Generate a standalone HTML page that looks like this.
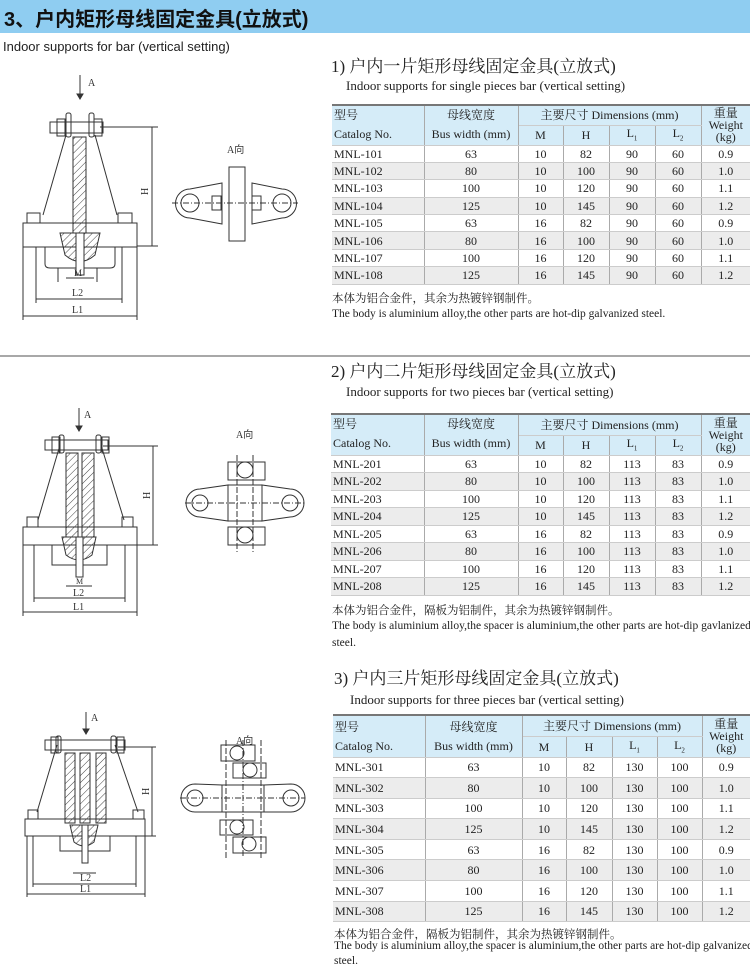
<!DOCTYPE html>
<html><head><meta charset="utf-8">
<style>
body{margin:0;width:750px;height:968px;position:relative;background:#fff;overflow:hidden;font-family:"Liberation Serif","Noto Serif CJK SC",serif;color:#222}
.abs{position:absolute;white-space:nowrap}
.hdr{left:0;top:0;width:750px;height:33px;background:#8fcdf1}
.hdr span{position:absolute;left:4px;top:3px;font:bold 20px "Liberation Sans","Noto Sans CJK SC",sans-serif;color:#111}
.t1{font-size:17px}
.t2{font-size:13px}
table{position:absolute;border-collapse:collapse;font-size:12px;table-layout:fixed}
td{border-left:1px solid #aaa;border-right:1px solid #aaa;border-bottom:1px solid #ccc;text-align:center;padding:0;line-height:1;overflow:hidden}
tr.h td{background:#d5ecf8}
tr:nth-child(2n+4) td{background:#ececec}
td.l{text-align:left;padding-left:2px;border-left:none}
td.r{border-right:none}
table{border-top:2px solid #777;border-bottom:1px solid #888}
.note{font-size:11.5px}
</style></head><body>
<div class="abs hdr"><span>3、户内矩形母线固定金具(立放式)</span></div>
<div class="abs" style="left:3px;top:39px;font:13px 'Liberation Sans',sans-serif">Indoor supports for bar (vertical setting)</div>
<div class="abs" style="left:0;top:355px;width:750px;height:2px;background:#a8a8a8"></div>

<div class="abs t1" style="left:331px;top:52px">1) 户内一片矩形母线固定金具(立放式)</div>
<div class="abs t2" style="left:346px;top:78px">Indoor supports for single pieces bar (vertical setting)</div>
<div class="abs t1" style="left:331px;top:357px">2) 户内二片矩形母线固定金具(立放式)</div>
<div class="abs t2" style="left:346px;top:384px">Indoor supports for two pieces bar (vertical setting)</div>
<div class="abs t1" style="left:334px;top:664px">3) 户内三片矩形母线固定金具(立放式)</div>
<div class="abs t2" style="left:350px;top:692px">Indoor supports for three pieces bar (vertical setting)</div>

<table style="left:332px;top:104px;width:418px">
<colgroup><col style="width:92px"><col style="width:94px"><col style="width:45px"><col style="width:46px"><col style="width:46px"><col style="width:46px"><col style="width:49px"></colgroup>
<tr class="h" style="height:20px"><td class="l" rowspan="2" style="line-height:19px;vertical-align:top">型号<br>Catalog No.</td><td rowspan="2" style="line-height:19px;vertical-align:top">母线宽度<br>Bus width (mm)</td><td colspan="4">主要尺寸 Dimensions (mm)</td><td class="r" rowspan="2" style="line-height:12px">重量<br>Weight<br>(kg)</td></tr>
<tr class="h" style="height:20px"><td>M</td><td>H</td><td>L<sub style="font-size:7px">1</sub></td><td>L<sub style="font-size:7px">2</sub></td></tr>
<tr style="height:17.4px"><td class="l">MNL-101</td><td>63</td><td>10</td><td>82</td><td>90</td><td>60</td><td class="r">0.9</td></tr>
<tr style="height:17.4px"><td class="l">MNL-102</td><td>80</td><td>10</td><td>100</td><td>90</td><td>60</td><td class="r">1.0</td></tr>
<tr style="height:17.4px"><td class="l">MNL-103</td><td>100</td><td>10</td><td>120</td><td>90</td><td>60</td><td class="r">1.1</td></tr>
<tr style="height:17.4px"><td class="l">MNL-104</td><td>125</td><td>10</td><td>145</td><td>90</td><td>60</td><td class="r">1.2</td></tr>
<tr style="height:17.4px"><td class="l">MNL-105</td><td>63</td><td>16</td><td>82</td><td>90</td><td>60</td><td class="r">0.9</td></tr>
<tr style="height:17.4px"><td class="l">MNL-106</td><td>80</td><td>16</td><td>100</td><td>90</td><td>60</td><td class="r">1.0</td></tr>
<tr style="height:17.4px"><td class="l">MNL-107</td><td>100</td><td>16</td><td>120</td><td>90</td><td>60</td><td class="r">1.1</td></tr>
<tr style="height:17.4px"><td class="l">MNL-108</td><td>125</td><td>16</td><td>145</td><td>90</td><td>60</td><td class="r">1.2</td></tr>
</table>
<div class="abs note" style="left:332px;top:290px">本体为铝合金件，其余为热镀锌钢制件。</div>
<div class="abs note" style="left:332px;top:308px">The body is aluminium alloy,the other parts are hot-dip galvanized steel.</div>

<table style="left:331px;top:413px;width:419px">
<colgroup><col style="width:93px"><col style="width:94px"><col style="width:45px"><col style="width:46px"><col style="width:46px"><col style="width:46px"><col style="width:49px"></colgroup>
<tr class="h" style="height:21px"><td class="l" rowspan="2" style="line-height:19px;vertical-align:top">型号<br>Catalog No.</td><td rowspan="2" style="line-height:19px;vertical-align:top">母线宽度<br>Bus width (mm)</td><td colspan="4">主要尺寸 Dimensions (mm)</td><td class="r" rowspan="2" style="line-height:12px">重量<br>Weight<br>(kg)</td></tr>
<tr class="h" style="height:20px"><td>M</td><td>H</td><td>L<sub style="font-size:7px">1</sub></td><td>L<sub style="font-size:7px">2</sub></td></tr>
<tr style="height:17.5px"><td class="l">MNL-201</td><td>63</td><td>10</td><td>82</td><td>113</td><td>83</td><td class="r">0.9</td></tr>
<tr style="height:17.5px"><td class="l">MNL-202</td><td>80</td><td>10</td><td>100</td><td>113</td><td>83</td><td class="r">1.0</td></tr>
<tr style="height:17.5px"><td class="l">MNL-203</td><td>100</td><td>10</td><td>120</td><td>113</td><td>83</td><td class="r">1.1</td></tr>
<tr style="height:17.5px"><td class="l">MNL-204</td><td>125</td><td>10</td><td>145</td><td>113</td><td>83</td><td class="r">1.2</td></tr>
<tr style="height:17.5px"><td class="l">MNL-205</td><td>63</td><td>16</td><td>82</td><td>113</td><td>83</td><td class="r">0.9</td></tr>
<tr style="height:17.5px"><td class="l">MNL-206</td><td>80</td><td>16</td><td>100</td><td>113</td><td>83</td><td class="r">1.0</td></tr>
<tr style="height:17.5px"><td class="l">MNL-207</td><td>100</td><td>16</td><td>120</td><td>113</td><td>83</td><td class="r">1.1</td></tr>
<tr style="height:17.5px"><td class="l">MNL-208</td><td>125</td><td>16</td><td>145</td><td>113</td><td>83</td><td class="r">1.2</td></tr>
</table>
<div class="abs note" style="left:332px;top:602px">本体为铝合金件，隔板为铝制件，其余为热镀锌钢制件。</div>
<div class="abs note" style="left:332px;top:620px">The body is aluminium alloy,the spacer is aluminium,the other parts are hot-dip gavlanized</div>
<div class="abs note" style="left:332px;top:637px">steel.</div>

<table style="left:333px;top:714px;width:417px">
<colgroup><col style="width:92px"><col style="width:97px"><col style="width:44px"><col style="width:46px"><col style="width:45px"><col style="width:45px"><col style="width:48px"></colgroup>
<tr class="h" style="height:21px"><td class="l" rowspan="2" style="line-height:19px;vertical-align:top;padding-top:2px">型号<br>Catalog No.</td><td rowspan="2" style="line-height:19px;vertical-align:top;padding-top:2px">母线宽度<br>Bus width (mm)</td><td colspan="4">主要尺寸 Dimensions (mm)</td><td class="r" rowspan="2" style="line-height:12px">重量<br>Weight<br>(kg)</td></tr>
<tr class="h" style="height:21px"><td>M</td><td>H</td><td>L<sub style="font-size:7px">1</sub></td><td>L<sub style="font-size:7px">2</sub></td></tr>
<tr style="height:20.6px"><td class="l">MNL-301</td><td>63</td><td>10</td><td>82</td><td>130</td><td>100</td><td class="r">0.9</td></tr>
<tr style="height:20.6px"><td class="l">MNL-302</td><td>80</td><td>10</td><td>100</td><td>130</td><td>100</td><td class="r">1.0</td></tr>
<tr style="height:20.6px"><td class="l">MNL-303</td><td>100</td><td>10</td><td>120</td><td>130</td><td>100</td><td class="r">1.1</td></tr>
<tr style="height:20.6px"><td class="l">MNL-304</td><td>125</td><td>10</td><td>145</td><td>130</td><td>100</td><td class="r">1.2</td></tr>
<tr style="height:20.6px"><td class="l">MNL-305</td><td>63</td><td>16</td><td>82</td><td>130</td><td>100</td><td class="r">0.9</td></tr>
<tr style="height:20.6px"><td class="l">MNL-306</td><td>80</td><td>16</td><td>100</td><td>130</td><td>100</td><td class="r">1.0</td></tr>
<tr style="height:20.6px"><td class="l">MNL-307</td><td>100</td><td>16</td><td>120</td><td>130</td><td>100</td><td class="r">1.1</td></tr>
<tr style="height:20.6px"><td class="l">MNL-308</td><td>125</td><td>16</td><td>145</td><td>130</td><td>100</td><td class="r">1.2</td></tr>
</table>
<div class="abs note" style="left:334px;top:926px">本体为铝合金件，隔板为铝制件，其余为热镀锌钢制件。</div>
<div class="abs note" style="left:334px;top:940px">The body is aluminium alloy,the spacer is aluminium,the other parts are hot-dip galvanized</div>
<div class="abs note" style="left:334px;top:955px">steel.</div>

<svg class="abs" style="left:0;top:0" width="325" height="968" viewBox="0 0 325 968" fill="none" stroke="#333" stroke-width="1" font-family="Liberation Serif" font-size="10">
<defs><pattern id="hb" width="5" height="5" patternUnits="userSpaceOnUse" patternTransform="rotate(45)"><line x1="0" y1="0" x2="0" y2="5" stroke="#444" stroke-width="1"/></pattern></defs>
<g>
<line x1="80" y1="75" x2="80" y2="98"/><path d="M77 94 L80 99 L83 94Z" fill="#333"/>
<text x="88" y="86" fill="#333" stroke="none">A</text>
<rect x="50" y="122" width="53" height="11"/><rect x="57" y="119" width="8" height="17"/><rect x="94" y="119" width="8" height="17"/>
<rect x="66" y="113" width="5" height="24" rx="2"/><rect x="89" y="113" width="5" height="24" rx="2"/>
<rect x="73" y="137" width="13" height="96" fill="url(#hb)"/>
<line x1="66" y1="135" x2="43" y2="215"/><line x1="95" y1="135" x2="117" y2="215"/>
<rect x="27" y="213" width="13" height="10"/><rect x="118" y="213" width="14" height="10"/>
<rect x="23" y="223" width="114" height="24"/>
<path d="M45 247 L45 264 Q45 268 50 268 L110 268 Q115 268 115 264 L115 247"/>
<path d="M60 233 L100 233 L95 255 Q80 268 65 255Z" fill="url(#hb)"/>
<rect x="76" y="233" width="8" height="42" fill="#fff"/>
<path d="M58 268 L58 282 M97 268 L97 282"/>
<line x1="100" y1="127" x2="158" y2="127"/><line x1="137" y1="246" x2="158" y2="246"/>
<line x1="152" y1="127" x2="152" y2="246"/>
<text x="0" y="0" transform="translate(148,195) rotate(-90)" fill="#333" stroke="none">H</text>
<line x1="23" y1="247" x2="23" y2="320"/><line x1="137" y1="247" x2="137" y2="320"/>
<line x1="36" y1="247" x2="36" y2="303"/><line x1="122" y1="247" x2="122" y2="303"/>
<line x1="36" y1="299" x2="122" y2="299"/><line x1="23" y1="316" x2="137" y2="316"/>
<line x1="66" y1="278" x2="94" y2="278"/>
<text x="74" y="276" fill="#333" stroke="none" font-size="9">M</text>
<text x="72" y="296" fill="#333" stroke="none">L2</text>
<text x="72" y="313" fill="#333" stroke="none">L1</text>
<text x="227" y="153" fill="#333" stroke="none">A向</text>
<path d="M190 189 L222 183 L222 224 L190 218 A14 14 0 0 1 190 189Z"/>
<path d="M282 189 L252 183 L252 224 L282 218 A14 14 0 0 0 282 189Z"/>
<circle cx="190" cy="203" r="9"/><circle cx="282" cy="203" r="9"/>
<rect x="229" y="167" width="16" height="74"/>
<rect x="212" y="196" width="9" height="14"/><rect x="252" y="196" width="9" height="14"/>
<line x1="172" y1="203" x2="298" y2="203" stroke-dasharray="6 2 1 2"/>
</g>
<g>
<line x1="79" y1="408" x2="79" y2="430"/><path d="M76 426 L79 431 L82 426Z" fill="#333"/>
<text x="84" y="418" fill="#333" stroke="none">A</text>
<rect x="45" y="440" width="63" height="10"/><rect x="52" y="437" width="8" height="16"/><rect x="102" y="437" width="7" height="16"/>
<rect x="59" y="435" width="5" height="18" rx="2"/><rect x="96" y="435" width="5" height="18" rx="2"/>
<rect x="66" y="453" width="12" height="84" fill="url(#hb)"/><rect x="82" y="453" width="12" height="84" fill="url(#hb)"/>
<line x1="60" y1="445" x2="38" y2="520"/><line x1="101" y1="445" x2="124" y2="520"/>
<rect x="27" y="517" width="11" height="10"/><rect x="122" y="517" width="11" height="10"/>
<rect x="23" y="527" width="114" height="18"/>
<path d="M52 545 L52 565 L107 565 L107 545"/>
<path d="M62 537 L96 537 L92 555 Q79 565 66 555Z" fill="url(#hb)"/>
<rect x="76" y="537" width="7" height="40" fill="#fff"/>
<line x1="103" y1="446" x2="158" y2="446"/><line x1="137" y1="545" x2="158" y2="545"/>
<line x1="153" y1="446" x2="153" y2="545"/>
<text x="0" y="0" transform="translate(150,499) rotate(-90)" fill="#333" stroke="none">H</text>
<line x1="23" y1="545" x2="23" y2="616"/><line x1="137" y1="545" x2="137" y2="616"/>
<line x1="34" y1="545" x2="34" y2="602"/><line x1="125" y1="545" x2="125" y2="602"/>
<line x1="34" y1="598" x2="125" y2="598"/><line x1="23" y1="612" x2="137" y2="612"/>
<line x1="66" y1="586" x2="92" y2="586"/>
<text x="76" y="584" fill="#333" stroke="none" font-size="8">M</text>
<text x="73" y="596" fill="#333" stroke="none">L2</text>
<text x="73" y="610" fill="#333" stroke="none">L1</text>
<text x="236" y="438" fill="#333" stroke="none">A向</text>
<rect x="228" y="462" width="37" height="18"/><circle cx="245" cy="470" r="8"/>
<rect x="228" y="527" width="37" height="18"/><circle cx="245" cy="535" r="8"/>
<path d="M200 489 L228 485 L228 521 L200 517 A14 14 0 0 1 200 489Z"/>
<path d="M290 489 L262 485 L262 521 L290 517 A14 14 0 0 0 290 489Z"/>
<circle cx="200" cy="503" r="8"/><circle cx="290" cy="503" r="8"/>
<rect x="228" y="485" width="34" height="36"/>
<line x1="237" y1="455" x2="237" y2="552" stroke-dasharray="6 2"/><line x1="253" y1="455" x2="253" y2="552" stroke-dasharray="6 2"/>
<line x1="185" y1="503" x2="305" y2="503" stroke-dasharray="6 2 1 2"/>
</g>
<g>
<line x1="86" y1="712" x2="86" y2="733"/><path d="M83 729 L86 734 L89 729Z" fill="#333"/>
<text x="91" y="721" fill="#333" stroke="none">A</text>
<rect x="45" y="740" width="80" height="10"/><rect x="51" y="737" width="7" height="16"/><rect x="117" y="737" width="7" height="16"/>
<rect x="56" y="736" width="5" height="17" rx="2"/><rect x="111" y="736" width="5" height="17" rx="2"/>
<rect x="65" y="753" width="10" height="70" fill="url(#hb)"/><rect x="80" y="753" width="10" height="70" fill="url(#hb)"/><rect x="96" y="753" width="10" height="70" fill="url(#hb)"/>
<line x1="57" y1="745" x2="37" y2="812"/><line x1="115" y1="745" x2="138" y2="812"/>
<rect x="28" y="810" width="10" height="9"/><rect x="133" y="810" width="11" height="9"/>
<rect x="25" y="819" width="120" height="17"/>
<path d="M60 836 L60 851 L110 851 L110 836"/>
<path d="M70 825 L98 825 L94 842 Q84 850 74 842Z" fill="url(#hb)"/>
<rect x="82" y="825" width="6" height="38" fill="#fff"/>
<line x1="118" y1="747" x2="156" y2="747"/><line x1="145" y1="836" x2="156" y2="836"/>
<line x1="152" y1="747" x2="152" y2="836"/>
<text x="0" y="0" transform="translate(149,795) rotate(-90)" fill="#333" stroke="none">H</text>
<line x1="27" y1="836" x2="27" y2="897"/><line x1="145" y1="836" x2="145" y2="897"/>
<line x1="33" y1="836" x2="33" y2="887"/><line x1="136" y1="836" x2="136" y2="887"/>
<line x1="33" y1="884" x2="136" y2="884"/><line x1="27" y1="894" x2="145" y2="894"/>
<line x1="73" y1="873" x2="96" y2="873"/>
<text x="80" y="881" fill="#333" stroke="none">L2</text>
<text x="80" y="892" fill="#333" stroke="none">L1</text>
<text x="236" y="744" fill="#333" stroke="none">A向</text>
<rect x="221" y="745" width="34" height="16"/><circle cx="237" cy="753" r="7"/>
<rect x="233" y="763" width="33" height="15"/><circle cx="250" cy="770" r="7"/>
<rect x="220" y="820" width="33" height="15"/><circle cx="237" cy="827" r="7"/>
<rect x="233" y="837" width="33" height="16"/><circle cx="249" cy="844" r="7"/>
<path d="M195 784 L222 785 L222 812 L195 812 A14 14 0 0 1 195 784Z"/>
<path d="M291 784 L264 785 L264 812 L291 812 A14 14 0 0 0 291 784Z"/>
<circle cx="195" cy="798" r="8"/><circle cx="291" cy="798" r="8"/>
<rect x="222" y="785" width="42" height="27"/>
<line x1="226" y1="740" x2="226" y2="858" stroke-dasharray="6 2"/><line x1="261" y1="740" x2="261" y2="858" stroke-dasharray="6 2"/>
<line x1="243" y1="740" x2="243" y2="858" stroke-dasharray="6 2 1 2"/>
<line x1="180" y1="798" x2="305" y2="798" stroke-dasharray="6 2 1 2"/>
</g>
</svg>
</body></html>
